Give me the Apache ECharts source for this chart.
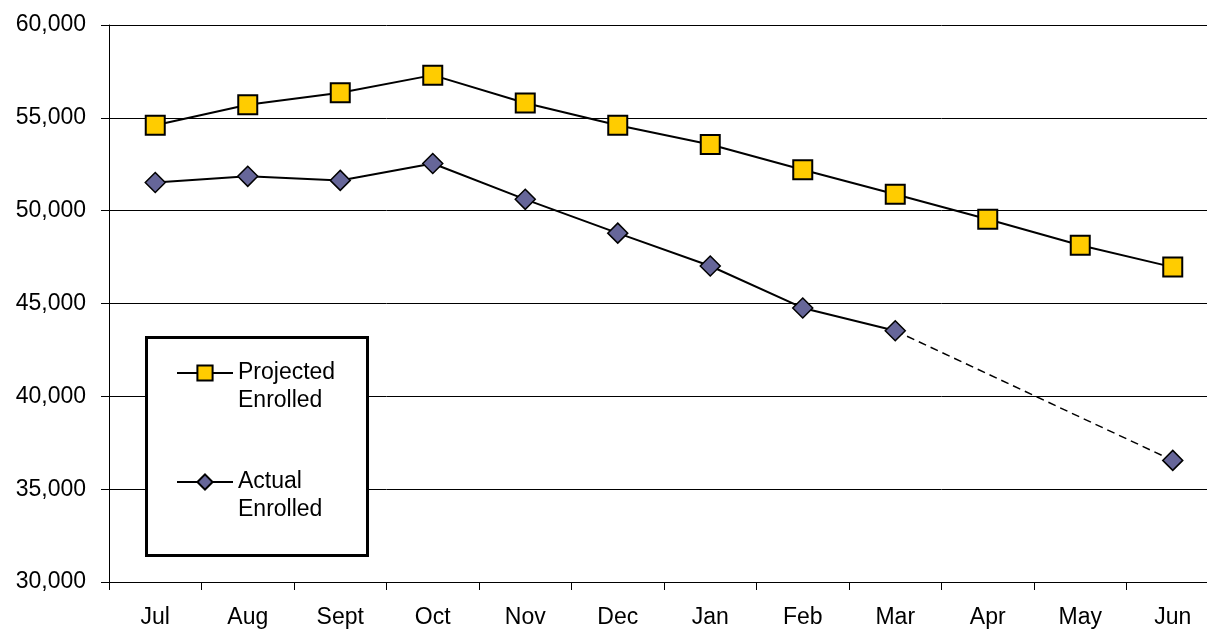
<!DOCTYPE html>
<html>
<head>
<meta charset="utf-8">
<script src="https://cdn.jsdelivr.net/npm/echarts@6/dist/echarts.min.js"></script>
<style>html,body{margin:0;padding:0;background:#fff;overflow:hidden;width:1207px;height:629px}#c{width:1222px;height:629px}</style>
</head>
<body>
<div id="c"></div>
<script>
const months = ['Jul','Aug','Sept','Oct','Nov','Dec','Jan','Feb','Mar','Apr','May','Jun'];
const projected = [54600, 55700, 56350, 57300, 55800, 54600, 53560, 52200, 50880, 49540, 48140, 46960];
const actual = [51520, 51850, 51630, 52540, 50610, 48790, 47020, 44760, 43530, null, null, null];
const actualForecast = [null, null, null, null, null, null, null, null, 43530, null, null, 36550];
const yTicks = {min: 30000, max: 60000, step: 5000};

const chart = echarts.init(document.getElementById('c'), null, {renderer: 'canvas'});
const font = 'Liberation Sans, Arial, sans-serif';
chart.setOption({
  animation: false,
  backgroundColor: '#fff',
  grid: {left: 109, top: 25, width: 1110, height: 558, containLabel: false},
  graphic: [{
    type: 'rect', z: 50,
    shape: {x: 146.5, y: 337.5, width: 221, height: 218},
    style: {fill: '#fff', stroke: '#000', lineWidth: 3}
  }],
  legend: {
    z: 60,
    orient: 'vertical',
    left: 176, top: 331,
    padding: 0,
    itemWidth: 56, itemHeight: 19,
    itemGap: 25,
    data: ['Projected\nEnrolled', 'Actual\nEnrolled'],
    formatter: name => '\u00a0\n' + name,
    textStyle: {fontFamily: font, fontSize: 23, color: '#000', lineHeight: 28},
    selectedMode: false
  },
  xAxis: {
    type: 'category',
    data: months,
    boundaryGap: true,
    axisLine: {lineStyle: {color: '#000', width: 1}},
    axisTick: {show: true, length: 8, lineStyle: {color: '#000'}},
    axisLabel: {interval: 0, margin: 24, fontFamily: font, fontSize: 23, color: '#000'},
    splitLine: {show: false}
  },
  yAxis: {
    type: 'value',
    min: yTicks.min, max: yTicks.max, interval: yTicks.step,
    axisLine: {show: true, lineStyle: {color: '#000', width: 1}},
    axisTick: {show: true, length: 8, lineStyle: {color: '#000'}},
    axisLabel: {margin: 23, fontFamily: font, fontSize: 23, color: '#000',
      formatter: v => v.toLocaleString('en-US')},
    splitLine: {show: true, lineStyle: {color: '#000', width: 1}}
  },
  series: [
    {
      name: 'Projected\nEnrolled', type: 'line', data: projected,
      symbol: 'rect', symbolSize: 19,
      lineStyle: {color: '#000', width: 2},
      itemStyle: {color: '#FFCC00', borderColor: '#000', borderWidth: 2},
      z: 3
    },
    {
      name: 'Actual\nEnrolled', type: 'line', data: actual,
      symbol: 'diamond', symbolSize: 20,
      lineStyle: {color: '#000', width: 2},
      itemStyle: {color: '#666699', borderColor: '#000', borderWidth: 1.5},
      z: 3
    },
    {
      name: 'Actual forecast', type: 'line', data: actualForecast,
      connectNulls: true,
      symbol: (v, p) => p.dataIndex === 11 ? 'diamond' : 'none', symbolSize: 20,
      lineStyle: {color: '#000', width: 1.5, type: [8, 5]},
      itemStyle: {color: '#666699', borderColor: '#000', borderWidth: 1.5},
      z: 2
    }
  ]
});
</script>
</body>
</html>
